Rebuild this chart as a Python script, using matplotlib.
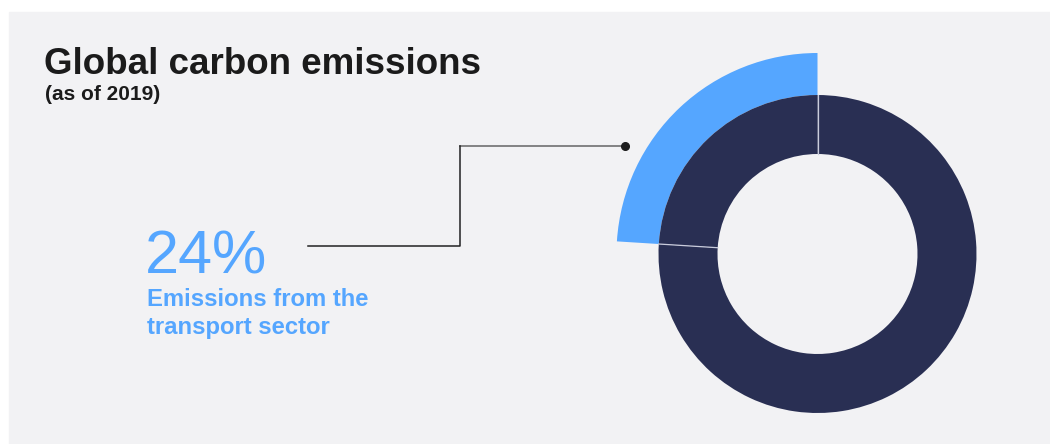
import numpy as np
import matplotlib.pyplot as plt
from matplotlib.patches import Rectangle

# data
shares = [24, 76]
sectors = ['Transport', 'Other']
pct_label = '24%'
desc_lines = ['Emissions from the', 'transport sector']
title = 'Global carbon emissions'
subtitle = '(as of 2019)'

navy = '#292f53'
blue = '#55a6ff'
bg = '#f2f2f4'

W, H = 1050, 444
fig = plt.figure(figsize=(W / 100, H / 100), dpi=100, facecolor='white')
ax = fig.add_axes([0, 0, 1, 1])
ax.add_patch(Rectangle((9, 0), W - 9, H - 12, color=bg, zorder=0))

cx, cy = 817.5, H - 254
r_out, r_in, r_hi = 159, 100, 201

# highlighted wedge, sticks out behind the ring
ax.pie(shares, colors=[blue, 'none'], startangle=90, counterclock=True,
       radius=r_hi, center=(cx, cy),
       wedgeprops=dict(width=r_hi - r_out, linewidth=0))
ax.pie(shares, colors=[navy, navy], startangle=90, counterclock=True,
       radius=r_out, center=(cx, cy),
       wedgeprops=dict(width=r_out - r_in, linewidth=0))

# thin separators between the ring segments
bounds = 90 + 360 * np.cumsum([0] + shares[:-1]) / sum(shares)
for a in np.radians(bounds):
    ax.plot([cx + r_in * np.cos(a), cx + r_out * np.cos(a)],
            [cy + r_in * np.sin(a), cy + r_out * np.sin(a)],
            color='#c9ccdc', lw=0.9, zorder=5)

ax.set_xlim(0, W)
ax.set_ylim(0, H)
ax.set_aspect('equal')
ax.axis('off')

# leader line
ax.plot([625, 460], [H - 146, H - 146], color='#707070', lw=1.2, zorder=4)
ax.plot([460, 460, 308], [H - 146, H - 246, H - 246], color='#222222', lw=1.1, zorder=4)
ax.plot([625], [H - 146], 'o', color='#1e1e1e', ms=5.5, zorder=6)

fam = ['Liberation Sans', 'DejaVu Sans']
ax.text(44, H - 74, title, fontsize=26.5, fontweight='bold', color='#1b1b1b',
        family=fam, va='baseline')
ax.text(45, H - 100, subtitle, fontsize=15, fontweight='bold', color='#1b1b1b',
        family=fam, va='baseline')
ax.text(145, H - 274, pct_label, fontsize=44, color=blue,
        family=fam, va='baseline')
for i, line in enumerate(desc_lines):
    ax.text(147, H - 306 - 28 * i, line, fontsize=17.2, fontweight='bold',
            color=blue, family=fam, va='baseline')

fig.savefig('out.png', dpi=100, facecolor='white')
